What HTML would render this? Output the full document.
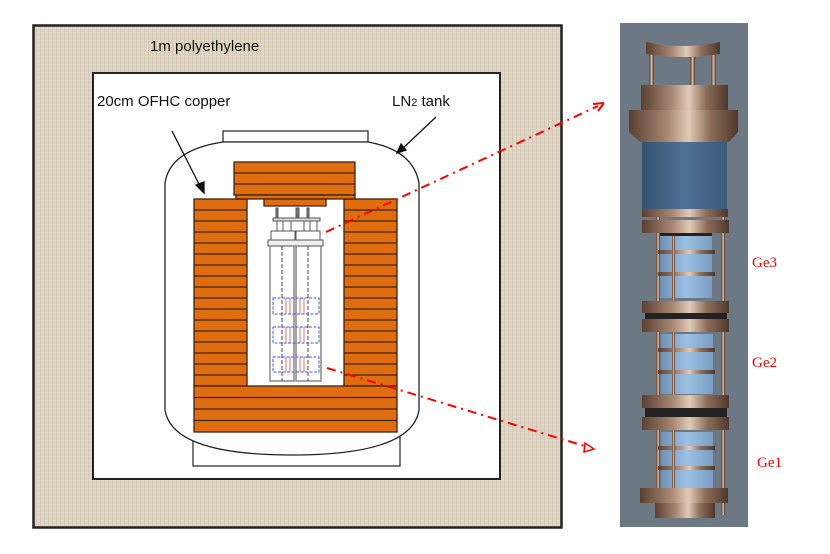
<!DOCTYPE html>
<html><head><meta charset="utf-8"><style>
html,body{margin:0;padding:0;background:#fff;}
svg{display:block;}
text{font-family:"Liberation Sans",sans-serif;}
</style></head><body>
<svg width="830" height="554" viewBox="0 0 830 554" xmlns="http://www.w3.org/2000/svg">
<defs>
<pattern id="lin" width="4" height="4" patternUnits="userSpaceOnUse">
<rect width="4" height="4" fill="#ddd3c1"/>
<rect width="4" height="1" fill="#e3dacb"/>
<rect width="1" height="4" fill="#d5c9b5"/>
</pattern>
<linearGradient id="cu" x1="0" x2="1" y1="0" y2="0">
<stop offset="0" stop-color="#5a4032"/><stop offset="0.35" stop-color="#a88672"/><stop offset="0.55" stop-color="#e0cbb8"/><stop offset="0.75" stop-color="#8c6c58"/><stop offset="1" stop-color="#4e382c"/>
</linearGradient>
<linearGradient id="blu" x1="0" x2="1" y1="0" y2="0">
<stop offset="0" stop-color="#345272"/><stop offset="0.5" stop-color="#4f7196"/><stop offset="1" stop-color="#3a5a7c"/>
</linearGradient>
<linearGradient id="lb" x1="0" x2="1" y1="0" y2="0">
<stop offset="0" stop-color="#6f90b5"/><stop offset="0.5" stop-color="#9cc0e4"/><stop offset="1" stop-color="#7a9cc2"/>
</linearGradient>
</defs>

<rect x="33.5" y="25.5" width="528" height="502" fill="url(#lin)" stroke="#222" stroke-width="2.5"/>
<rect x="93" y="73" width="407" height="406" fill="#fff" stroke="#222" stroke-width="2"/>
<text x="150" y="51" font-size="15" fill="#111">1m polyethylene</text>
<text x="97" y="106" font-size="15" fill="#111">20cm OFHC copper</text>
<text x="392" y="106" font-size="15" fill="#111">LN<tspan font-size="11">2</tspan> tank</text>

<rect x="193" y="430" width="207" height="36" fill="#fff" stroke="#222" stroke-width="1.2"/>
<rect x="223" y="131" width="145" height="11" fill="#fff" stroke="#222" stroke-width="1.2"/>
<path d="M165,183 Q170,150 223,142 L368,142 Q413,150 419,183 L419,410 Q412,455 292,455 Q172,455 165,410 Z" fill="#fff" stroke="#222" stroke-width="1.3"/>

<g fill="#e06c10" stroke="#3a2410" stroke-width="1.3">
<rect x="194" y="199" width="53" height="187"/>
<rect x="344" y="199" width="53" height="187"/>
<rect x="194" y="386" width="203" height="46"/>
<rect x="234" y="162" width="121" height="33"/>
<rect x="236" y="195" width="119" height="4"/>
<path d="M264,199 L326,199 L326,206 L264,206 Z"/>
</g>
<g stroke="#3a2410" stroke-width="1.3">
<path d="M194,210h53M194,221h53M194,232h53M194,243h53M194,254h53M194,265h53M194,276h53M194,287h53M194,298h53M194,309h53M194,320h53M194,331h53M194,342h53M194,353h53M194,364h53M194,375h53"/>
<path d="M344,210h53M344,221h53M344,232h53M344,243h53M344,254h53M344,265h53M344,276h53M344,287h53M344,298h53M344,309h53M344,320h53M344,331h53M344,342h53M344,353h53M344,364h53M344,375h53"/>
<path d="M194,397.5h203M194,409h203M194,420.5h203"/>
<path d="M234,173h121M234,184h121"/>
</g>

<g stroke="#555" stroke-width="1" fill="#fff">
<rect x="276" y="208" width="2" height="10" fill="#777"/>
<rect x="296" y="208" width="3" height="10" fill="#777"/>
<rect x="307" y="208" width="2" height="10" fill="#777"/>
<rect x="273" y="218" width="47" height="3" fill="#ddd"/>
<path d="M277,221v10M283,221v10M291,221v10M304,221v10M310,221v10M317,221v10"/>
<rect x="271" y="231" width="24" height="10"/>
<rect x="296" y="231" width="24" height="10"/>
<rect x="268" y="240" width="55" height="6" fill="#eee"/>
<rect x="270" y="246" width="24" height="135" fill="#fff" stroke="#888" stroke-width="1.5"/>
<rect x="296" y="246" width="25" height="135" fill="#fff" stroke="#888" stroke-width="1.5"/>
</g>
<path d="M282,246V381M308,246V381" stroke="#333" stroke-width="0.9" stroke-dasharray="4,2"/>
<g fill="none" stroke="#4455ee" stroke-width="1" stroke-dasharray="3,1.5">
<rect x="273" y="298" width="46" height="16"/><rect x="273" y="327" width="46" height="16"/><rect x="273" y="357" width="46" height="15"/>
</g>
<g stroke="#e05050" stroke-width="0.8">
<path d="M286,298v16M290,298v16M300,298v16M304,298v16M286,327v16M290,327v16M300,327v16M304,327v16M286,357v15M290,357v15M300,357v15M304,357v15"/>
</g>

<g stroke="#111" stroke-width="1.3" fill="#111">
<path d="M172,131 L201,188" fill="none"/><path d="M204,193 L196,185 L204,182 Z"/>
<path d="M436,117 L401,150" fill="none"/><path d="M397,153 L401,144 L406,150 Z"/>
</g>

<g stroke="#f00" stroke-width="2" fill="none" stroke-dasharray="9,5,2,5">
<path d="M326,232 L598,106"/>
<path d="M327,368 L588,447"/>
</g>
<path d="M604,103 L593,104 M604,103 L598,111" stroke="#f00" stroke-width="2" fill="none"/>
<path d="M594,449 L585,443 L584,452 Z" stroke="#f00" stroke-width="1.5" fill="none"/>

<rect x="620" y="23" width="128" height="504" fill="#6c7985"/>
<g fill="url(#cu)">
<rect x="649" y="50" width="5" height="38"/><rect x="711" y="50" width="5" height="38"/><rect x="690" y="55" width="5" height="33"/>
<rect x="656" y="215" width="4" height="300"/><rect x="721" y="215" width="4" height="300"/>
</g>
<path d="M646,42 Q683,50 720,42 L720,54 Q683,60 646,54 Z" fill="url(#cu)"/>
<rect x="641" y="85" width="87" height="26" fill="url(#cu)"/>
<path d="M629,110 L738,110 L738,132 L729,142 L640,142 L629,132 Z" fill="url(#cu)"/>
<rect x="642" y="142" width="85" height="70" fill="url(#blu)"/>
<rect x="642" y="209" width="86" height="8" fill="url(#cu)"/>
<g fill="url(#lb)">
<rect x="660" y="236" width="52" height="62"/>
<rect x="661" y="334" width="52" height="60"/>
<rect x="661" y="432" width="52" height="56"/>
</g>
<g fill="url(#cu)">
<rect x="642" y="220" width="87" height="13"/>
<rect x="642" y="301" width="87" height="12"/>
<rect x="642" y="319" width="87" height="13"/>
<rect x="642" y="395" width="87" height="13"/>
<rect x="642" y="417" width="87" height="13"/>
<rect x="640" y="488" width="88" height="15"/>
<rect x="658" y="250" width="57" height="4"/><rect x="658" y="272" width="57" height="4"/>
<rect x="658" y="348" width="57" height="4"/><rect x="658" y="370" width="57" height="4"/>
<rect x="658" y="446" width="57" height="4"/><rect x="658" y="466" width="57" height="4"/>
<rect x="672" y="233" width="3" height="68"/><rect x="672" y="332" width="3" height="63"/><rect x="672" y="430" width="3" height="58"/>
<rect x="655" y="503" width="60" height="15"/>
</g>
<g fill="#222">
<rect x="645" y="313" width="82" height="6"/><rect x="645" y="408" width="82" height="9"/><rect x="660" y="233" width="52" height="3"/>
</g>
<g font-size="15" fill="#f00">
<text x="752" y="267" style="font-family:'Liberation Serif',serif">Ge3</text>
<text x="752" y="367" style="font-family:'Liberation Serif',serif">Ge2</text>
<text x="757" y="467" style="font-family:'Liberation Serif',serif">Ge1</text>
</g>
</svg>
</body></html>
